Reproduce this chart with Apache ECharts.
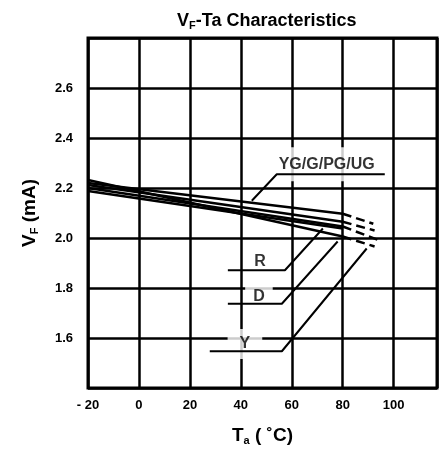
<!DOCTYPE html>
<html>
<head>
<meta charset="utf-8">
<script src="https://cdn.jsdelivr.net/npm/echarts@6/dist/echarts.min.js"></script>
<style>
  html, body { margin: 0; padding: 0; background: #fff; }
  #chart { width: 440px; height: 451px; }
</style>
</head>
<body>
<div id="chart"></div>
<script>
// VF-Ta characteristics, values
const INK = '#000';
const FONT = 'Liberation Sans, Arial, sans-serif';

// solid part of each curve: Ta -20 .. 80
const taSolid = [-20, 80];
const vfStart = [2.232, 2.220, 2.212, 2.200, 2.188];
const vfEnd = [2.006, 2.097, 2.065, 2.046, 2.038];

// dashed continuation past 80 degC (first four curves)
const taDashEnd = [92.5, 92, 92.5, 94.5];
const vfDashEnd = [1.966, 2.057, 2.03, 1.99];

// leader lines from the labels to the curves
const leaderYG = { ta: [96.5, 54.1, 44.3], vf: [2.255, 2.255, 2.149] };
const leaderR = { ta: [34.9, 57.3, 72.2], vf: [1.871, 1.871, 2.038] };
const leaderD = { ta: [34.9, 56.1, 78.0], vf: [1.737, 1.737, 1.986] };
const leaderY = { ta: [27.8, 56.1, 89.4], vf: [1.547, 1.547, 1.958] };

const labelText = ['YG/G/PG/UG', 'R', 'D', 'Y'];
const labelTa = [73.7, 47.5, 47.1, 41.6];
const labelVf = [2.295, 1.905, 1.766, 1.576];
const labelPad = [[7, 7, 11, 7], [2, 4, 2, 4], [3, 8, 3, 8], [7, 12, 7, 12]];

const zip = (xs, ys) => xs.map((x, i) => [x, ys[i]]);

// V with small F sitting on the baseline (datasheet style)
const subRich = (size) => ({
  a: { fontFamily: FONT, fontWeight: 'bold', fontSize: size, color: INK, lineHeight: 20 },
  s: { fontFamily: FONT, fontWeight: 'bold', fontSize: 11, color: INK, lineHeight: 16, verticalAlign: 'bottom' },
});

const solidSeries = vfStart.map((v, i) => ({
  type: 'line', z: 2, silent: true, showSymbol: false,
  data: zip(taSolid, [v, vfEnd[i]]),
  lineStyle: { color: INK, width: 2.5 },
}));

const dashSeries = vfDashEnd.map((v, i) => ({
  type: 'line', z: 2, silent: true, showSymbol: false,
  data: zip([80, taDashEnd[i]], [vfEnd[i], v]),
  lineStyle: { color: INK, width: 2.5, type: [9, 5] },
}));

const leaderSeries = [leaderYG, leaderR, leaderD, leaderY].map((l) => ({
  type: 'line', z: 5, silent: true, showSymbol: false,
  data: zip(l.ta, l.vf),
  lineStyle: { color: INK, width: 2 },
}));

const labelSeries = {
  type: 'scatter', z: 4, silent: true, symbolSize: 0,
  itemStyle: { color: 'transparent' },
  data: labelText.map((t, i) => ({
    value: [labelTa[i], labelVf[i]],
    label: {
      show: true, position: 'inside', formatter: t,
      color: INK, fontFamily: FONT, fontWeight: 'bold', fontSize: 16,
      backgroundColor: '#fff', padding: labelPad[i],
    },
  })),
};

const chart = echarts.init(document.getElementById('chart'), null, { renderer: 'canvas' });
chart.setOption({
  animation: false,
  title: {
    text: '{a|V}{s|F}{a|-Ta Characteristics}',
    left: 172, top: 6,
    textStyle: { rich: subRich(18) },
  },
  grid: {
    left: 88, right: 3, top: 38, bottom: 60,
    show: true, borderColor: INK, borderWidth: 3, backgroundColor: '#fff',
  },
  xAxis: {
    type: 'value', min: -20, max: 117, interval: 20,
    axisLine: { show: false }, axisTick: { show: false },
    splitLine: { lineStyle: { color: INK, width: 2.5 } },
    axisLabel: {
      margin: 11, color: INK, fontFamily: FONT, fontWeight: 'bold', fontSize: 13,
      showMaxLabel: false,
      formatter: (v) => (v < 0 ? '- ' + Math.abs(v) : String(v)),
    },
    name: '{a|T}{s|a}{a| ( ˚C)}',
    nameLocation: 'middle', nameGap: 38,
    nameTextStyle: { rich: subRich(19) },
  },
  yAxis: {
    type: 'value', min: 1.4, max: 2.8, interval: 0.2,
    axisLine: { show: false }, axisTick: { show: false },
    splitLine: { lineStyle: { color: INK, width: 2.5 } },
    axisLabel: {
      margin: 15, color: INK, fontFamily: FONT, fontWeight: 'bold', fontSize: 13,
      showMinLabel: false, showMaxLabel: false,
      formatter: (v) => v.toFixed(1),
    },
    name: '{a|V}{s|F}{a| (mA)}',
    nameLocation: 'middle', nameRotate: 90, nameGap: 48,
    nameTextStyle: { rich: subRich(19) },
  },
  series: [...solidSeries, ...dashSeries, labelSeries, ...leaderSeries],
});
</script>
</body>
</html>
